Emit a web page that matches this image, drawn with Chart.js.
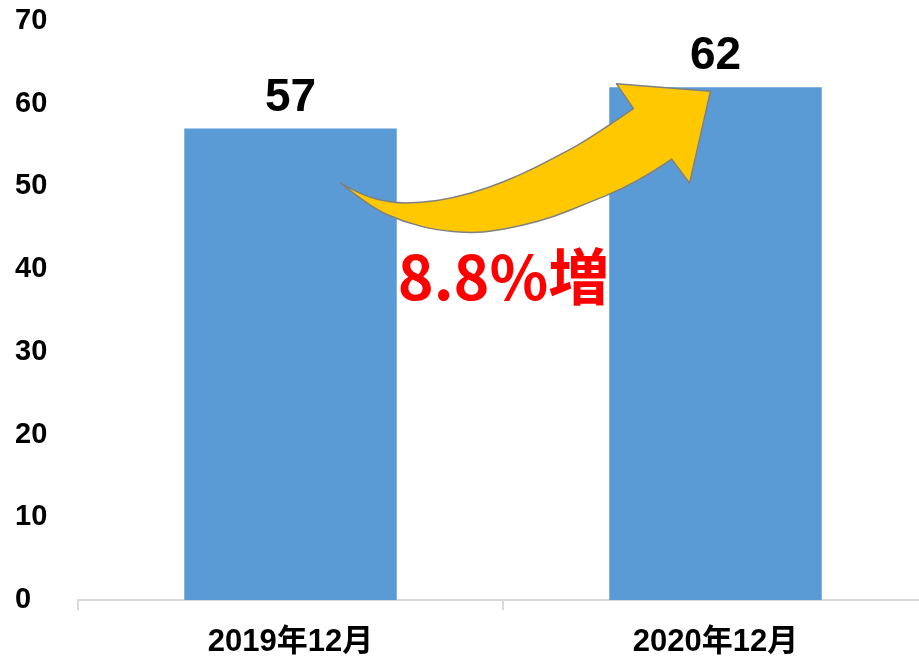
<!DOCTYPE html>
<html>
<head>
<meta charset="utf-8">
<script src="https://cdn.jsdelivr.net/npm/chart.js@4.4.1/dist/chart.umd.min.js"></script>
<style>
  html, body { margin: 0; padding: 0; background: #fff; overflow: hidden; }
  #wrap { width: 930px; height: 661px; }
</style>
</head>
<body>
<div id="wrap"><canvas id="grafico" width="930" height="661"></canvas></div>
<script>
// dados do grafico
var meses = ['2019年12月', '2020年12月'];
var valores = [57, 62];
var ticksY = [0, 10, 20, 30, 40, 50, 60, 70];
var textoAumento = '8.8%増';

// forma da seta: u = fracao entre as duas barras, v = valor no eixo y
// borda de cima (da cauda ate o entalhe), ponta, borda de baixo (do entalhe ate a cauda)
var setaCimaU = [0.118, 0.165, 0.235, 0.306, 0.384, 0.464, 0.541, 0.619, 0.699, 0.807];
var setaCimaV = [50.4, 49.0, 48.0, 48.0, 48.6, 49.8, 51.4, 53.4, 55.6, 59.4];
var setaPontaU = [0.767, 0.988, 0.939, 0.897];
var setaPontaV = [62.4, 61.5, 50.4, 53.3];
var setaBaixoU = [0.897, 0.854, 0.777, 0.699, 0.619, 0.541, 0.464, 0.417, 0.346, 0.266, 0.188, 0.118];
var setaBaixoV = [53.3, 51.8, 49.6, 48.0, 46.3, 45.2, 44.5, 44.4, 44.7, 45.7, 47.5, 50.4];

var fonteNum = '"Liberation Sans", Arial, "Noto Sans CJK JP", sans-serif';

function CurvaSuave(ctx, pts) {
    // curva passando pelo primeiro e ultimo ponto, suavizada pelos pontos medios
    for (var i = 1; i < pts.length - 1; i++) {
        var mx = (pts[i][0] + pts[i + 1][0]) / 2;
        var my = (pts[i][1] + pts[i + 1][1]) / 2;
        if (i === pts.length - 2) { mx = pts[i + 1][0]; my = pts[i + 1][1]; }
        ctx.quadraticCurveTo(pts[i][0], pts[i][1], mx, my);
    }
}

var pluginExtras = {
    id: 'extras',
    afterDatasetsDraw: function (chart) {
        var ctx = chart.ctx;
        var x = chart.scales.x;
        var y = chart.scales.y;
        var x0 = x.getPixelForValue(0);
        var x1 = x.getPixelForValue(1);

        function Pontos(us, vs) {
            var p = [];
            for (var i = 0; i < us.length; i++) {
                p.push([x0 + us[i] * (x1 - x0), y.getPixelForValue(vs[i])]);
            }
            return p;
        }

        var cima = Pontos(setaCimaU, setaCimaV);
        var ponta = Pontos(setaPontaU, setaPontaV);
        var baixo = Pontos(setaBaixoU, setaBaixoV);

        // seta amarela
        ctx.save();
        ctx.beginPath();
        ctx.moveTo(cima[0][0], cima[0][1]);
        CurvaSuave(ctx, cima);
        ponta.forEach(function (p) { ctx.lineTo(p[0], p[1]); });
        CurvaSuave(ctx, baixo);
        ctx.closePath();
        ctx.fillStyle = '#FFC800';
        ctx.fill();
        ctx.lineWidth = 1.5;
        ctx.lineJoin = 'round';
        ctx.strokeStyle = '#808080';
        ctx.stroke();
        ctx.restore();

        // rotulos dos valores
        var meta = chart.getDatasetMeta(0);
        ctx.save();
        ctx.fillStyle = '#000';
        ctx.font = 'bold 46px ' + fonteNum;
        ctx.textAlign = 'center';
        ctx.textBaseline = 'alphabetic';
        meta.data.forEach(function (bar, indice) {
            ctx.fillText(String(valores[indice]), bar.x, bar.y - 18);
        });
        ctx.restore();

        // texto do aumento
        ctx.save();
        ctx.fillStyle = '#FF0000';
        ctx.font = 'bold 61px "Noto Sans CJK JP", sans-serif';
        ctx.textAlign = 'center';
        ctx.textBaseline = 'alphabetic';
        ctx.fillText(textoAumento, x0 + 0.501 * (x1 - x0), y.getPixelForValue(36.3));
        ctx.restore();
    }
};

new Chart(document.getElementById('grafico'), {
    type: 'bar',
    data: {
        labels: meses,
        datasets: [{
            data: valores,
            backgroundColor: '#5B9BD5',
            borderWidth: 0,
            categoryPercentage: 1.0,
            barPercentage: 0.5
        }]
    },
    options: {
        responsive: false,
        animation: false,
        layout: { padding: { left: 15, top: 21, right: 2, bottom: 0 } },
        plugins: {
            legend: { display: false },
            tooltip: { enabled: false }
        },
        scales: {
            x: {
                grid: {
                    display: true,
                    drawOnChartArea: false,
                    drawTicks: true,
                    tickLength: 10,
                    color: '#D9D9D9',
                    lineWidth: 2,
                    offset: true
                },
                border: { display: true, color: '#D9D9D9', width: 2 },
                ticks: {
                    color: '#000',
                    padding: 14,
                    font: { family: fonteNum, size: 31, weight: 'bold' }
                },
                afterFit: function (scale) { scale.height = 61; }
            },
            y: {
                min: 0,
                max: 70,
                afterBuildTicks: function (scale) {
                    scale.ticks = ticksY.map(function (v) { return { value: v }; });
                },
                grid: { display: false },
                border: { display: false },
                ticks: {
                    color: '#000',
                    crossAlign: 'far',
                    font: { family: fonteNum, size: 29, weight: 'bold' }
                },
                afterFit: function (scale) { scale.width = 63; }
            }
        }
    },
    plugins: [pluginExtras]
});
</script>
</body>
</html>
